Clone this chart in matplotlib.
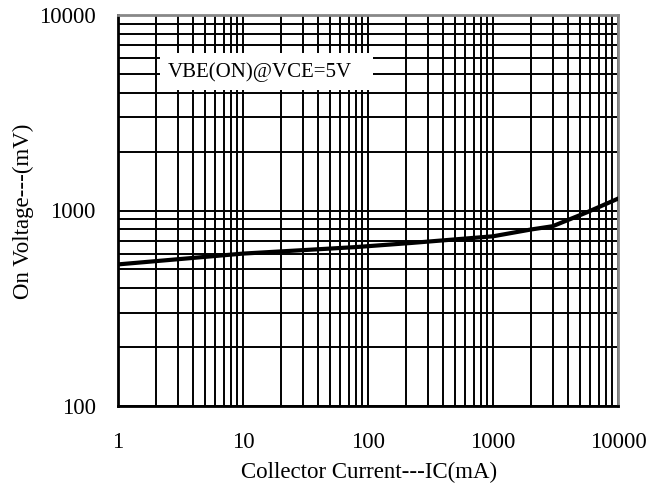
import matplotlib
matplotlib.use("Agg")
import matplotlib.pyplot as plt
from matplotlib.patches import Rectangle

ic_ma = [1, 10, 80, 220, 1000, 2000, 3000, 5600, 10000]
von_mv = [530, 602, 650, 682, 738, 799, 831, 977, 1150]
x_ticks = [1, 10, 100, 1000, 10000]
y_ticks = [100, 1000, 10000]
note = 'VBE(ON)@VCE=5V'

plt.rcParams['font.family'] = ['Liberation Serif', 'DejaVu Serif']

fig = plt.figure(figsize=(6.61, 4.88), dpi=100)
ax = fig.add_axes([118/661, 1-406/488, 500/661, 391/488])
ax.set_xscale('log')
ax.set_yscale('log')
ax.set_xlim(1, 10000)
ax.set_ylim(100, 10000)

ax.grid(True, which='both', color='black', linewidth=1.4)
ax.set_axisbelow(True)
ax.plot(ic_ma, von_mv, color='black', linewidth=3, zorder=5)

ax.set_xticks(x_ticks)
ax.set_xticklabels([str(t) for t in x_ticks])
ax.set_yticks(y_ticks)
ax.set_yticklabels([str(t) for t in y_ticks])
ax.tick_params(which='both', length=0, labelsize=16.5)
ax.tick_params(axis='x', pad=19)
ax.tick_params(axis='y', pad=16)

for s in ['left', 'bottom']:
    ax.spines[s].set_color('black')
    ax.spines[s].set_linewidth(2)
for s in ['top', 'right']:
    ax.spines[s].set_color('#888888')
    ax.spines[s].set_linewidth(2)

ax.set_xlabel('Collector Current---IC(mA)', fontsize=16.5)
ax.set_ylabel('On Voltage---(mV)', fontsize=16.5)
ax.xaxis.set_label_coords((369-118)/500, (406-472)/391)
ax.xaxis.label.set_va('center')
ax.yaxis.set_label_coords((23-118)/500, (406-211)/391)
ax.yaxis.label.set_va('center')

ax.add_patch(Rectangle((0.084, 0.808), 0.426, 0.095, transform=ax.transAxes,
                       facecolor='white', edgecolor='none', zorder=3))
ax.text(0.1, 0.854, note, transform=ax.transAxes, fontsize=15,
        va='center', ha='left', zorder=4)

fig.savefig('out.png', dpi=100)
